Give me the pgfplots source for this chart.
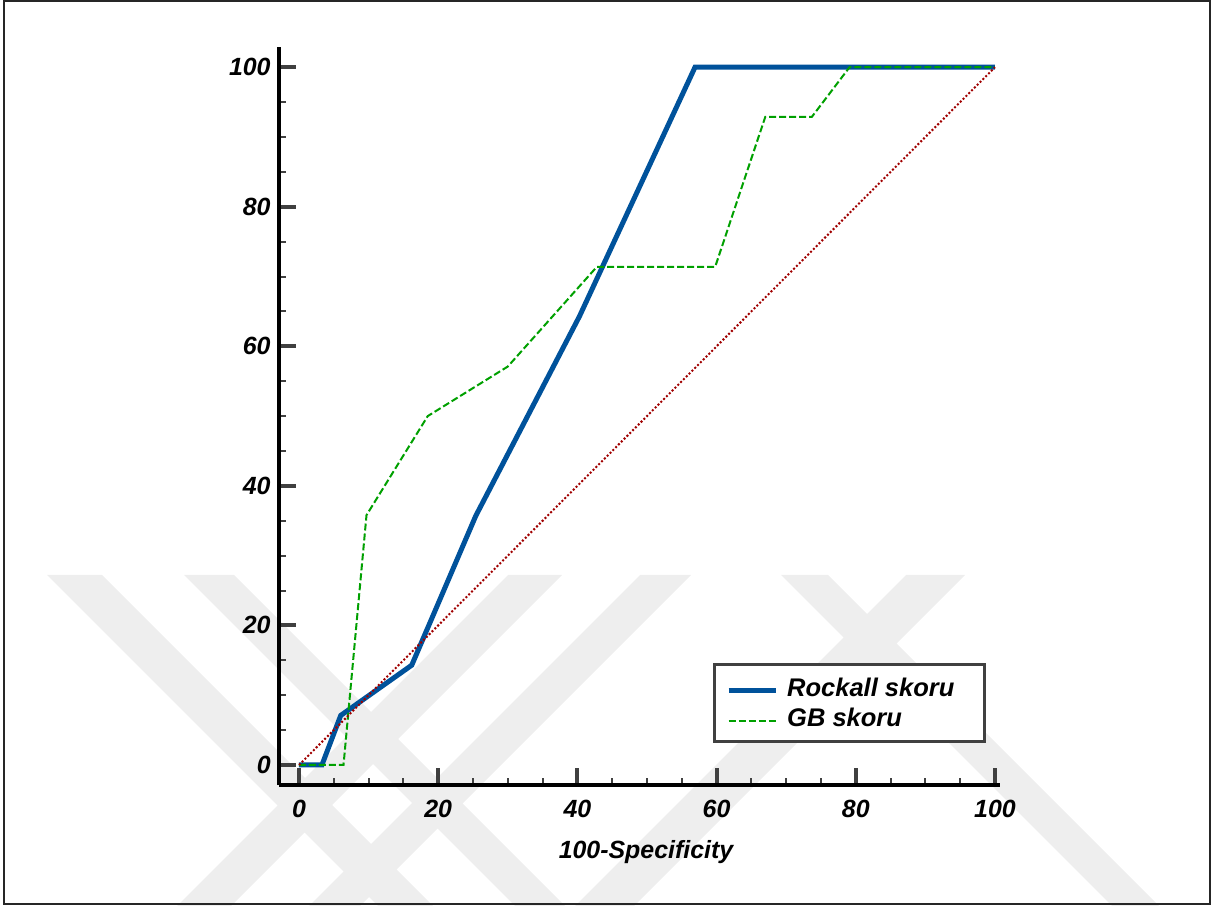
\documentclass[border=0pt]{standalone}
\usepackage{pgfplots}
\pgfplotsset{compat=1.18}
\usepackage{fontspec}
\setmainfont{Liberation Sans}
\definecolor{rockblue}{RGB}{0,82,155}
\definecolor{gbgreen}{RGB}{0,160,0}
\definecolor{diagred}{RGB}{160,0,0}
\definecolor{wm}{RGB}{238,238,238}
\definecolor{tickgray}{RGB}{64,64,64}
\newcommand{\lblfont}{\fontsize{12.5}{14}\selectfont\bfseries\itshape}
\newcommand{\legfont}{\fontsize{12.8}{14}\selectfont\bfseries\itshape}
\begin{document}
\begin{tikzpicture}
\useasboundingbox (0bp,0bp) rectangle (609bp,453bp);
% watermark (decorative background)
\fill[wm] (23.5bp,165.5bp) -- (51bp,165.5bp) -- (216.5bp,0bp) -- (189bp,0bp) -- cycle;
\fill[wm] (92bp,165.5bp) -- (117bp,165.5bp) -- (282.5bp,0bp) -- (257.5bp,0bp) -- cycle;
\fill[wm] (254bp,165.5bp) -- (281bp,165.5bp) -- (115.5bp,0bp) -- (88.5bp,0bp) -- cycle;
\fill[wm] (320bp,165.5bp) -- (345.5bp,165.5bp) -- (180bp,0bp) -- (154.5bp,0bp) -- cycle;
\fill[wm] (390.5bp,165.5bp) -- (414bp,165.5bp) -- (579.5bp,0bp) -- (556bp,0bp) -- cycle;
\fill[wm] (453bp,165.5bp) -- (482.5bp,165.5bp) -- (317bp,0bp) -- (287.5bp,0bp) -- cycle;
% frame
\draw[line width=1bp, black!85] (1.75bp,1bp) rectangle (605bp,452.5bp);
\begin{axis}[
  at={(139.5bp,60.5bp)}, anchor=south west,
  scale only axis, width=360.5bp, height=369bp,
  xmin=-2.87, xmax=100.72, ymin=-2.87, ymax=102.9,
  axis lines=left,
  axis line style={line width=2bp, black, -},
  xtick={0,20,...,100}, ytick={0,20,...,100},
  minor tick num=3,
  tick align=inside,
  major tick length=8.5bp, minor tick length=3.5bp,
  major tick style={line width=2bp, tickgray},
  minor tick style={line width=1bp, tickgray},
  /pgf/number format/assume math mode=true,
  ticklabel style={font=\lblfont, inner sep=0pt},
  xticklabel style={anchor=north, yshift=-7.5bp},
  yticklabel style={anchor=east, xshift=-4bp},
  xlabel={100-Specificity},
  every axis x label/.style={at={(axis description cs:0.509,0)}, anchor=base, yshift=-36.5bp, font=\lblfont},
  clip=false,
  legend cell align=left,
  legend style={at={(axis description cs:0.6022,0.1657)}, anchor=north west,
    draw=tickgray, line width=1.5bp, fill=white,
    inner xsep=5.75bp, inner ysep=4.75bp,
    column sep=3.5bp, row sep=1bp,
    nodes={inner sep=1bp, text height=10.5bp, text depth=1.5bp, font=\legfont}},
  legend image code/.code={\draw[#1] (0bp,-1.5bp) -- (23.5bp,-1.5bp);},
]
\addplot[rockblue, line width=2.5bp] coordinates {
  (0,0) (3.3,0) (6.0,7.1) (16.2,14.3) (25.4,35.7) (40.3,64.3) (56.9,100) (100,100)};
\addlegendentry{\makebox[92bp][l]{Rockall skoru}}
\addplot[gbgreen, line width=1bp, dash pattern=on 3.5bp off 1.5bp] coordinates {
  (0,0) (6.4,0) (9.7,35.8) (18.5,50.0) (30.0,57.1) (42.8,71.4) (59.8,71.4) (67.0,92.9) (73.7,92.9) (79.1,100) (100,100)};
\addlegendentry{\makebox[92bp][l]{GB skoru}}
\addplot[diagred, line width=1bp, dash pattern=on 1bp off 1bp, forget plot] coordinates {(0,0) (100,100)};
\end{axis}
\end{tikzpicture}
\end{document}
